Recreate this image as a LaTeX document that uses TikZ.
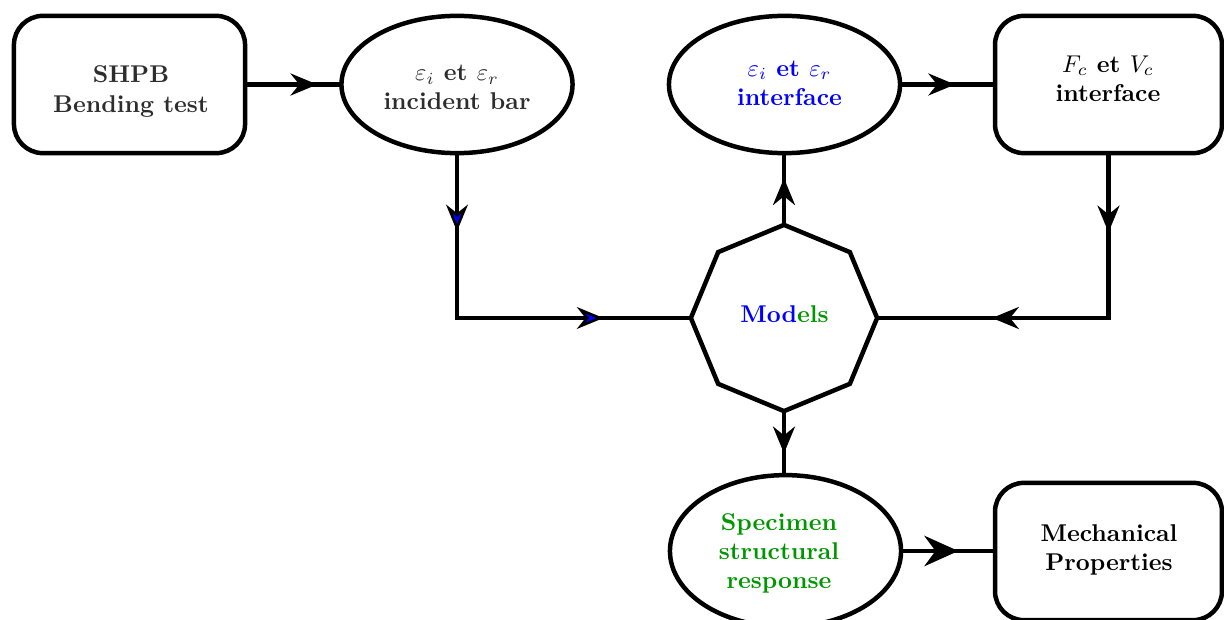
\documentclass[tikz,border=0pt]{standalone}
\usetikzlibrary{shapes.geometric,arrows.meta,decorations.markings}
\definecolor{leafgreen}{RGB}{0,150,0}
\definecolor{inkgrey}{RGB}{45,45,45}

\begin{document}
\begin{tikzpicture}[x=0.0145cm,y=-0.0145cm,
  shapebase/.style={outer sep=0pt, line width=1.85pt, draw=black},
  roundbox/.style={shapebase, rectangle, rounded corners=0.42cm, minimum width=3.35cm, minimum height=1.99cm},
  oval/.style={shapebase, ellipse, inner sep=1pt, minimum width=3.35cm, minimum height=1.99cm},
  octa/.style={shapebase, regular polygon, regular polygon sides=8, shape border rotate=22.5,
               minimum size=2.70cm, inner sep=0pt},
  lbl/.style={font=\bfseries, align=center, inner sep=0pt},
  flow/.style={line width=1.85pt},
  tipA/.style={postaction={decorate}, decoration={markings,
      mark=at position #1 with {\arrow{Stealth[length=11pt,width=9pt]}}}},
  tipBig/.style={postaction={decorate}, decoration={markings,
      mark=at position #1 with {\arrow{Stealth[length=14pt,width=12.5pt]}}}},
  tipTwo/.style 2 args={postaction={decorate}, decoration={markings,
      mark=at position #1 with {\arrow{Stealth[length=11pt,width=9pt]}},
      mark=at position #2 with {\arrow{Stealth[length=11pt,width=9pt]}}}},
  tipTwoBlue/.style 2 args={postaction={decorate}, decoration={markings,
      mark=at position #1 with {\arrow{Stealth[length=11pt,width=9pt,fill=blue,line width=1.1pt]}},
      mark=at position #2 with {\arrow{Stealth[length=11pt,width=9pt,fill=blue,line width=1.1pt]}}}},
]
\useasboundingbox (0,0) rectangle (1224,620);

% top row shapes
\node[roundbox] (shpb) at (129.5,84.5) {};
\node[oval] (incid) at (457,84.5) {};
\node[oval] (inter) at (784.5,84.5) {};
\node[roundbox, minimum width=3.29cm] (force) at (1108.5,84.5) {};

% central model
\node[octa] (model) at (784,318) {};

% bottom row shapes
\node[oval, minimum height=2.20cm] (resp) at (785.5,551) {};
\node[roundbox, minimum width=3.29cm] (mech) at (1108.5,551.5) {};

% texts
\node[lbl, text=inkgrey] (shpbtxt) at (131,91.5) {SHPB\\Bending test};
\node[lbl, text=inkgrey] (incidtxt) at (457,87.5) {$\varepsilon_i$ et $\varepsilon_r$\\incident bar};
\node[lbl, text=blue] (intertxt) at (789.5,83) {$\varepsilon_i$ et $\varepsilon_r$\\interface};
\node[lbl] (forcetxt) at (1108,78.5) {$F_c$ et $V_c$\\interface};
\node[lbl] (modeltxt) at (784.5,314) {\textcolor{blue}{Mod}\textcolor{leafgreen}{els}};
\node[lbl, text=leafgreen] (resptxt) at (779,553.5) {Specimen\\structural\\response};
\node[lbl] (mechtxt) at (1109,549.5) {Mechanical\\Properties};

% connectors
\draw[flow, tipA=0.75] (shpb.east) -- (incid.west);
\draw[flow, tipTwoBlue={0.196}{0.781}] (incid.south) |- (model.180);
\draw[flow, tipA=0.65] (model.90) -- (model.90 |- inter.south);
\draw[flow, tipA=0.58] (inter.east) -- (force.west);
\draw[flow, tipTwo={0.20}{0.71}] (force.south) |- (model.0);
\draw[flow, tipA=0.66] (model.270) -- (model.270 |- resp.north);
\draw[flow, tipBig=0.61] (resp.east) -- (mech.west |- resp.east);
\end{tikzpicture}
\end{document}
